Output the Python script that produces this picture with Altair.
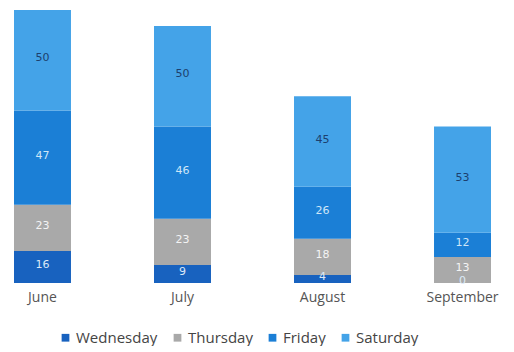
import altair as alt
import pandas as pd

months = ["June", "July", "August", "September"]
days = ["Wednesday", "Thursday", "Friday", "Saturday"]
wednesday = [16, 9, 4, 0]
thursday = [23, 23, 18, 13]
friday = [47, 46, 26, 12]
saturday = [50, 50, 45, 53]
colors = ["#1862bf", "#a9a9a9", "#1b7fd6", "#44a3e8"]
label_colors = ["#dce9f7", "#f4f4f4", "#cfe6f8", "#1d3f6e"]

series = [wednesday, thursday, friday, saturday]
rows = []
for di, (d, vals) in enumerate(zip(days, series)):
    for mi, m in enumerate(months):
        rows.append({"month": m, "day": d, "value": vals[mi], "order": di})
df = pd.DataFrame(rows)

base = alt.Chart(df).transform_stack(
    stack="value", groupby=["month"], as_=["y0", "y1"],
    sort=[alt.SortField("order", order="ascending")]
).transform_calculate(mid="(datum.y0 + datum.y1) / 2")

x = alt.X("month:N", sort=months, title=None,
          scale=alt.Scale(paddingInner=0.593, paddingOuter=0.1),
          axis=alt.Axis(ticks=False, domain=False, grid=False, labelAngle=0, labelFontSize=14,
                        labelColor="#555555", labelPadding=7, labelFont="Open Sans"))
yscale = alt.Scale(domain=[0, 141], nice=False)

bars = base.mark_bar().encode(
    x=x,
    y=alt.Y("y0:Q", scale=yscale, axis=None),
    y2="y1:Q",
    color=alt.Color("day:N", sort=days,
                    scale=alt.Scale(domain=days, range=colors),
                    legend=alt.Legend(title=None, orient="none", legendX=58, legendY=330,
                                      direction="horizontal",
                                      symbolType="square", symbolSize=60, labelFontSize=15,
                                      labelColor="#444444", labelFont="Open Sans",
                                      labelOffset=3, columnPadding=12, symbolStrokeWidth=0)),
)

text = base.mark_text(fontSize=11, font="DejaVu Sans", dy=-2).encode(
    x=x,
    y=alt.Y("mid:Q", scale=yscale, axis=None),
    text="value:Q",
    color=alt.Color("day:N", scale=alt.Scale(domain=days, range=label_colors), legend=None),
)

chart = alt.layer(bars, text).resolve_scale(color="independent").properties(
    width=505, height=283, padding={"left": 0, "top": 0, "right": 0, "bottom": 0},
    view=alt.ViewBackground(strokeOpacity=0, strokeWidth=0, stroke="#ffffff"),
).configure_view(strokeOpacity=0, strokeWidth=0).configure_axis(domain=False, grid=False).configure(background="white")

chart.save("out.html", embed_options={"renderer": "svg", "actions": False})
